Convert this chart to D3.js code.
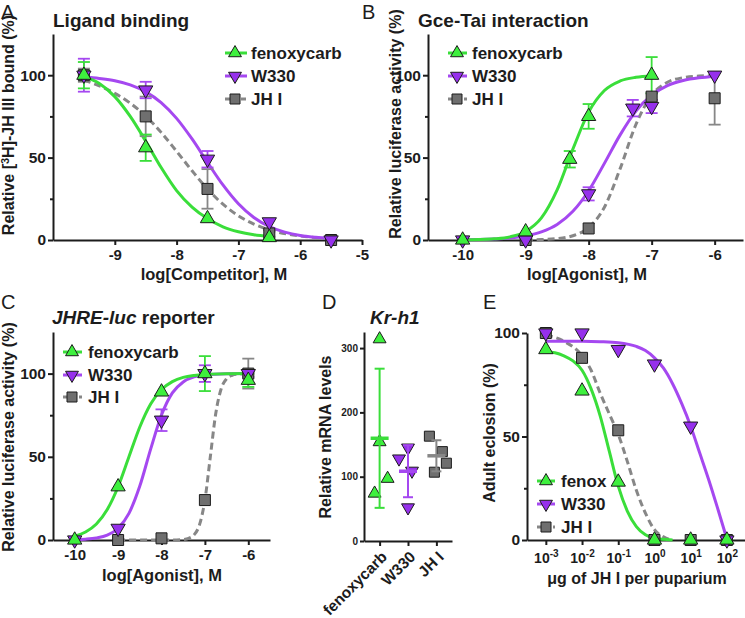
<!DOCTYPE html>
<html><head><meta charset="utf-8">
<script src="https://cdn.jsdelivr.net/npm/d3@7"></script>
<style>
body{margin:0;background:#fff;}
svg{display:block;}
</style></head><body>
<svg id="c" width="745" height="618"></svg>
<script>
// ---------------- DATA ----------------
const seriesNames = ["fenoxycarb", "W330", "JH I"];
const legendNamesE = ["fenox", "W330", "JH I"];

// Panel A: Ligand binding (log[Competitor], M ; % bound)
const aFenoxX = [-9.5, -8.5, -7.5, -6.5];
const aFenoxY = [100, 56, 13, 1.5];
const aFenoxE = [8, 8, 0, 0];
const aW330X = [-9.5, -8.5, -7.5, -6.5, -5.5];
const aW330Y = [100, 91, 49, 11, 0];
const aW330E = [10, 5, 5, 0, 0];
const aJhX = [-9.5, -8.5, -7.5, -6.5, -5.5];
const aJhY = [100, 75, 31, 4, 0];
const aJhE = [4, 12, 12, 2, 0];
const aFenoxFit = [[-9.5,99],[-9.25,95],[-9,87],[-8.75,75],[-8.5,60],[-8.25,44],[-8,30],[-7.75,20],[-7.5,13],[-7.25,8],[-7,5],[-6.75,3.2],[-6.5,2.2]];
const aW330Fit = [[-9.5,99],[-9.25,98],[-9,96.6],[-8.75,94.1],[-8.5,89.9],[-8.25,83.4],[-8,73.8],[-7.75,61.3],[-7.5,47.1],[-7.25,33.4],[-7,22],[-6.75,13.7],[-6.5,8.2],[-6.25,4.8],[-6,2.7],[-5.75,1.6],[-5.5,0.9]];
const aJhFit = [[-9.5,97],[-9.25,93.5],[-9,89],[-8.75,83],[-8.5,75.2],[-8.25,65.3],[-8,53.8],[-7.75,42],[-7.5,30.9],[-7.25,21.7],[-7,14.7],[-6.75,9.7],[-6.5,6.2],[-6,2.5],[-5.5,1]];

// Panel B: Gce-Tai interaction (log[Agonist], M ; % activity)
const bFenoxX = [-10, -9, -8.3, -8, -7];
const bFenoxY = [0, 5, 49, 75, 100];
const bFenoxE = [0, 0, 5, 7.5, 11];
const bW330X = [-10, -9, -8, -7.3, -7, -6];
const bW330Y = [0, 0, 28, 80, 81, 100];
const bW330E = [0, 0, 4, 5, 4, 0];
const bJhX = [-9, -8, -7, -6];
const bJhY = [0, 7, 87, 86];
const bJhE = [0, 0, 2, 16];
const bFenoxFit = [[-10,0.1],[-9.75,0.25],[-9.5,0.7],[-9.25,1.9],[-9,5.2],[-8.75,13.4],[-8.5,30.4],[-8.25,55.2],[-8,77.6],[-7.75,90.7],[-7.5,96.5],[-7.25,98.7],[-7,99.5]];
const bW330Fit = [[-10,0.15],[-9.75,0.3],[-9.5,0.6],[-9.25,1.2],[-9,2.5],[-8.75,4.9],[-8.5,9.4],[-8.25,17.4],[-8,29.9],[-7.75,46.5],[-7.5,63.8],[-7.25,78.2],[-7,87.9],[-6.75,93.7],[-6.5,96.8],[-6.25,98.4],[-6,99.2]];
const bJhFit = [[-9,0.1],[-8.75,0.3],[-8.5,0.85],[-8.25,2.6],[-8,7.5],[-7.75,19.9],[-7.5,43.3],[-7.25,70.1],[-7,87.8],[-6.75,95.7],[-6.5,98.5],[-6.25,99.5],[-6,99.8]];

// Panel C: JHRE-luc reporter
const cFenoxX = [-10, -9, -8, -7, -6];
const cFenoxY = [0, 32, 89, 100, 96];
const cFenoxE = [0, 0, 0, 10.5, 4];
const cW330X = [-10, -9, -8, -7, -6];
const cW330Y = [0, 7, 72, 100, 100];
const cW330E = [0, 0, 6.5, 5, 2];
const cJhX = [-9, -8, -7, -6];
const cJhY = [0, 1, 24, 100];
const cJhE = [0, 0, 0, 9];
const cFenoxFit = [[-10,2.3],[-9.75,4.8],[-9.5,9.6],[-9.25,18.3],[-9,32],[-8.75,50],[-8.5,67.9],[-8.25,81.7],[-8,90.4],[-7.75,95.2],[-7.5,97.7],[-7.25,98.9],[-7,99.5],[-6.5,99.9],[-6,100]];
const cW330Fit = [[-10,0.2],[-9.75,0.5],[-9.5,1.2],[-9.25,2.9],[-9,7.1],[-8.75,16],[-8.5,32.4],[-8.25,54.6],[-8,75.1],[-7.75,88.4],[-7.5,95],[-7.25,98],[-7,99.2],[-6.5,99.9],[-6,100]];
const cJhFit = [[-9,0],[-8,0],[-7.75,0.03],[-7.5,0.3],[-7.375,1],[-7.25,3.1],[-7.125,9.1],[-7,24],[-6.875,50],[-6.75,76],[-6.625,90.9],[-6.5,96.9],[-6.375,99],[-6.25,99.7],[-6,100]];

// Panel D: Kr-h1 relative mRNA levels
const dFenox = [314, 154, 97, 74];
const dW330 = [128, 145, 109, 52];
const dJh = [163, 139, 121, 107];

// Panel E: adult eclosion vs dose (ug per puparium)
const eDose = [0.001, 0.01, 0.1, 1, 10, 100];
const eFenox = [92, 72, 28, 0, 0, 0];
const eW330 = [100, 100, 92, 85, 55, 0];
const eJh = [100, 88, 53, 0, 0, 0];
const eFenoxFit = [[-3,91],[-2.75,90.5],[-2.5,89],[-2.25,86.5],[-2,82],[-1.75,73],[-1.5,60],[-1.25,43],[-1,26],[-0.75,14],[-0.5,6.5],[-0.25,2.5],[0,0.8],[0.5,0]];
const eW330Fit = [[-3,96],[-2,96],[-1.5,95.8],[-1,95.3],[-0.5,93.5],[-0.25,91.5],[0,88],[0.25,83],[0.5,75.5],[0.75,66],[1,55],[1.25,42],[1.5,29],[1.75,15],[2,0.5]];
const eJhFit = [[-3,99],[-2.5,96],[-2,89],[-1.75,82],[-1.5,71],[-1.25,61],[-1,51],[-0.75,38],[-0.5,24],[-0.25,13],[0,5],[0.25,1.5],[0.5,0]];

// ---------------- STYLE ----------------
const FONT = "'Liberation Sans', Arial, Helvetica, sans-serif";
const INK = "#1c1c1c";
const STY = {
  "fenoxycarb": {line: "#3ade3a", fill: "#3ef03e", sym: "up", dash: null},
  "W330": {line: "#a548f0", fill: "#9630ec", sym: "down", dash: null},
  "JH I": {line: "#878787", fill: "#6f6f6f", sym: "square", dash: "7,4"}
};
const svg = d3.select("#c").attr("font-family", FONT);

function marker(g, kind, cx, cy, small) {
  const type = kind === "square" ? d3.symbolSquare : d3.symbolTriangle;
  const size = kind === "square" ? (small ? 100 : 121) : (small ? 72 : 88);
  const st = kind === "up" ? STY["fenoxycarb"] : kind === "down" ? STY["W330"] : STY["JH I"];
  g.append("path")
    .attr("d", d3.symbol().type(type).size(size)())
    .attr("transform", `translate(${cx},${cy})` + (kind === "down" ? " rotate(180)" : ""))
    .attr("fill", st.fill).attr("stroke", INK).attr("stroke-width", 1);
}

function styleAxis(sel, fs) {
  sel.attr("font-family", FONT).attr("font-size", fs);
  sel.select(".domain").attr("stroke", INK).attr("stroke-width", 2);
  sel.selectAll(".tick line").attr("stroke", INK).attr("stroke-width", 2);
  sel.selectAll(".tick text").attr("fill", INK).attr("font-weight", "bold");
}

function txt(x, y, s, opt) {
  opt = opt || {};
  const t = svg.append("text").attr("x", x).attr("y", y).text(s)
    .attr("fill", INK).attr("font-size", opt.size || 16)
    .attr("font-weight", opt.weight || "bold")
    .attr("text-anchor", opt.anchor || "start");
  if (opt.rotate) t.attr("x", 0).attr("y", 0).attr("transform", `translate(${x},${y}) rotate(${opt.rotate})`);
  if (opt.style) t.attr("font-style", opt.style);
  return t;
}

function curvePanel(p) {
  const g = svg.append("g");
  const x = p.x, y = p.y;
  const y0 = y.range()[0], x0 = x.range()[0];
  const cx = p.cx || (d => d);

  const gym = g.append("g").attr("transform", `translate(${x0},0)`)
    .call(d3.axisLeft(y).tickValues([25, 75]).tickSize(3).tickFormat(""));
  gym.select(".domain").remove();
  gym.selectAll("line").attr("stroke", INK).attr("stroke-width", 2);

  const gx = g.append("g").attr("transform", `translate(0,${y0})`)
    .call(d3.axisBottom(x).tickValues(p.xTicks).tickSize(5).tickSizeOuter(0)
      .tickPadding(p.xPad || 4).tickFormat(p.xFmt || (d => String(d))));
  styleAxis(gx, p.xFont || 15);
  if (p.xPost) p.xPost(gx);

  const gy = g.append("g").attr("transform", `translate(${x0},0)`)
    .call(d3.axisLeft(y).tickValues([0, 50, 100]).tickSize(5).tickSizeOuter(0)
      .tickPadding(2).tickFormat(d => String(d)));
  styleAxis(gy, 15.5);

  const line = d3.line().x(d => x(cx(d[0]))).y(d => y(d[1])).curve(d3.curveMonotoneX);
  const order = p.series.slice().reverse();
  order.forEach(s => {
    const st = STY[s.name];
    g.append("path").datum(s.fit).attr("d", line).attr("fill", "none")
      .attr("stroke", st.line).attr("stroke-width", 3)
      .attr("stroke-dasharray", st.dash);
  });
  order.forEach(s => {
    const st = STY[s.name];
    if (!s.e) return;
    s.x.forEach((xv, i) => {
      const e = s.e[i];
      if (!e) return;
      const px = x(xv), ya = y(s.y[i] + e), yb = y(s.y[i] - e);
      g.append("line").attr("x1", px).attr("x2", px).attr("y1", ya).attr("y2", yb)
        .attr("stroke", st.line).attr("stroke-width", 1.8);
      [ya, yb].forEach(yy => g.append("line").attr("x1", px - 6).attr("x2", px + 6)
        .attr("y1", yy).attr("y2", yy).attr("stroke", st.line).attr("stroke-width", 1.8));
    });
  });
  order.forEach(s => {
    const st = STY[s.name];
    s.x.forEach((xv, i) => marker(g, st.sym, x(xv), y(s.y[i]), false));
  });

  // legend
  const L = p.legend;
  p.series.forEach((s, i) => {
    const st = STY[s.name];
    const ry = L.rows[i];
    g.append("line").attr("x1", L.x0).attr("x2", L.x1).attr("y1", ry).attr("y2", ry)
      .attr("stroke", st.line).attr("stroke-width", 3).attr("stroke-dasharray", st.dash ? "5,3" : null);
    marker(g, st.sym, L.mx, ry, true);
    g.append("text").attr("x", L.tx).attr("y", ry).attr("dy", "0.35em")
      .attr("fill", INK).attr("font-size", 17).attr("font-weight", "bold")
      .text(L.labels[i]);
  });
}

// ---------------- PANEL A ----------------
curvePanel({
  x: d3.scaleLinear().domain([-10, -5]).range([53, 362]),
  y: d3.scaleLinear().domain([0, 125]).range([240, 34]),
  xTicks: [-9, -8, -7, -6, -5],
  series: [
    {name: "fenoxycarb", x: aFenoxX, y: aFenoxY, e: aFenoxE, fit: aFenoxFit},
    {name: "W330", x: aW330X, y: aW330Y, e: aW330E, fit: aW330Fit},
    {name: "JH I", x: aJhX, y: aJhY, e: aJhE, fit: aJhFit}
  ],
  legend: {x0: 225, x1: 247, mx: 235, tx: 251, rows: [53, 76, 99], labels: seriesNames}
});
txt(1, 19, "A", {size: 20, weight: "normal"});
txt(53, 27, "Ligand binding", {size: 19});
txt(214, 280, "log[Competitor], M", {anchor: "middle", size: 16.5});
{
  const t = svg.append("text").attr("transform", "translate(14,125) rotate(-90)")
    .attr("text-anchor", "middle").attr("font-size", 16).attr("font-weight", "bold").attr("fill", INK);
  t.append("tspan").text("Relative [");
  t.append("tspan").attr("font-size", 11).attr("dy", "-0.45em").text("3");
  t.append("tspan").attr("dy", "0.3em").text("H]-JH III bound (%)");
}

// ---------------- PANEL B ----------------
curvePanel({
  x: d3.scaleLinear().domain([-10.55, -5.55]).range([428, 743]),
  y: d3.scaleLinear().domain([0, 125]).range([240, 34]),
  xTicks: [-10, -9, -8, -7, -6],
  series: [
    {name: "fenoxycarb", x: bFenoxX, y: bFenoxY, e: bFenoxE, fit: bFenoxFit},
    {name: "W330", x: bW330X, y: bW330Y, e: bW330E, fit: bW330Fit},
    {name: "JH I", x: bJhX, y: bJhY, e: bJhE, fit: bJhFit}
  ],
  legend: {x0: 448, x1: 467, mx: 457, tx: 472, rows: [53, 76, 99], labels: seriesNames}
});
txt(362, 19, "B", {size: 20, weight: "normal"});
txt(418, 27, "Gce-Tai interaction", {size: 19});
txt(587, 280, "log[Agonist], M", {anchor: "middle", size: 16.5});
txt(401, 124, "Relative luciferase activity (%)", {anchor: "middle", rotate: -90});

// ---------------- PANEL C ----------------
curvePanel({
  x: d3.scaleLinear().domain([-10.5, -5.5]).range([53, 270]),
  y: d3.scaleLinear().domain([0, 125]).range([540, 332]),
  xTicks: [-10, -9, -8, -7, -6],
  series: [
    {name: "fenoxycarb", x: cFenoxX, y: cFenoxY, e: cFenoxE, fit: cFenoxFit},
    {name: "W330", x: cW330X, y: cW330Y, e: cW330E, fit: cW330Fit},
    {name: "JH I", x: cJhX, y: cJhY, e: cJhE, fit: cJhFit}
  ],
  legend: {x0: 63, x1: 82, mx: 72, tx: 88, rows: [352, 375, 397], labels: seriesNames}
});
txt(1, 309, "C", {size: 20, weight: "normal"});
{
  const t = txt(52, 324, "", {size: 19});
  t.append("tspan").attr("font-style", "italic").text("JHRE-luc");
  t.append("tspan").text(" reporter");
}
txt(162, 581, "log[Agonist], M", {anchor: "middle", size: 16.5});
txt(14, 437, "Relative luciferase activity (%)", {anchor: "middle", rotate: -90});

// ---------------- PANEL D ----------------
{
  const g = svg.append("g");
  const y = d3.scaleLinear().domain([0, 325]).range([541, 332]);
  const x = d3.scalePoint().domain(seriesNames).range([364, 452]).padding(0.55);
  const gy = g.append("g").attr("transform", "translate(364,0)")
    .call(d3.axisLeft(y).tickValues([0, 100, 200, 300]).tickSize(4).tickSizeOuter(0).tickPadding(2));
  styleAxis(gy, 10);
  const gx = g.append("g").attr("transform", "translate(0,541)")
    .call(d3.axisBottom(x).tickSize(5).tickSizeOuter(0));
  styleAxis(gx, 15.5);
  gx.selectAll(".tick text").attr("y", 0).attr("dy", "0.35em")
    .attr("text-anchor", "end").attr("transform", "translate(4,13) rotate(-45)");

  const groups = [
    {name: "fenoxycarb", v: dFenox, jit: [0, 0, 8, -5]},
    {name: "W330", v: dW330, jit: [-9, 0, 4, 0]},
    {name: "JH I", v: dJh, jit: [-7, 6, 10, -2]}
  ];
  groups.forEach(gr => {
    const st = STY[gr.name];
    const cx = x(gr.name);
    const m = d3.mean(gr.v), sd = d3.deviation(gr.v);
    gr.v.forEach((v, i) => marker(g, st.sym, cx + gr.jit[i], y(v), true));
    g.append("line").attr("x1", cx).attr("x2", cx).attr("y1", y(m + sd)).attr("y2", y(m - sd))
      .attr("stroke", st.line).attr("stroke-width", 2);
    [m + sd, m - sd].forEach(vv => g.append("line").attr("x1", cx - 5).attr("x2", cx + 5)
      .attr("y1", y(vv)).attr("y2", y(vv)).attr("stroke", st.line).attr("stroke-width", 2));
    g.append("line").attr("x1", cx - 9).attr("x2", cx + 9).attr("y1", y(m)).attr("y2", y(m))
      .attr("stroke", st.line).attr("stroke-width", 3.5);
  });
}
txt(322, 309, "D", {size: 20, weight: "normal"});
txt(370, 324, "Kr-h1", {size: 19, style: "italic"});
txt(331, 437, "Relative mRNA levels", {anchor: "middle", rotate: -90});

// ---------------- PANEL E ----------------
curvePanel({
  x: d3.scaleLog().domain([Math.pow(10, -3.52), Math.pow(10, 2.5)]).range([527, 745]),
  y: d3.scaleLinear().domain([0, 100]).range([540, 333]),
  cx: d => Math.pow(10, d),
  xTicks: eDose,
  xFont: 14,
  xPad: 8,
  xFmt: d => String(d),
  xPost: gx => {
    gx.selectAll(".tick text").each(function(d) {
      const t = d3.select(this).text(null);
      t.append("tspan").text("10");
      t.append("tspan").attr("font-size", 10).attr("dy", "-0.6em").text(String(Math.round(Math.log10(d))));
    });
  },
  series: [
    {name: "fenoxycarb", x: eDose, y: eFenox, e: null, fit: eFenoxFit},
    {name: "W330", x: eDose, y: eW330, e: null, fit: eW330Fit},
    {name: "JH I", x: eDose, y: eJh, e: null, fit: eJhFit}
  ],
  legend: {x0: 537, x1: 555, mx: 546, tx: 561, rows: [481, 504, 527], labels: legendNamesE}
});
txt(483, 309, "E", {size: 20, weight: "normal"});
txt(637, 584, "\u03bcg of JH I per puparium", {anchor: "middle"});
txt(495, 433, "Adult eclosion (%)", {anchor: "middle", rotate: -90});
</script>
</body></html>
